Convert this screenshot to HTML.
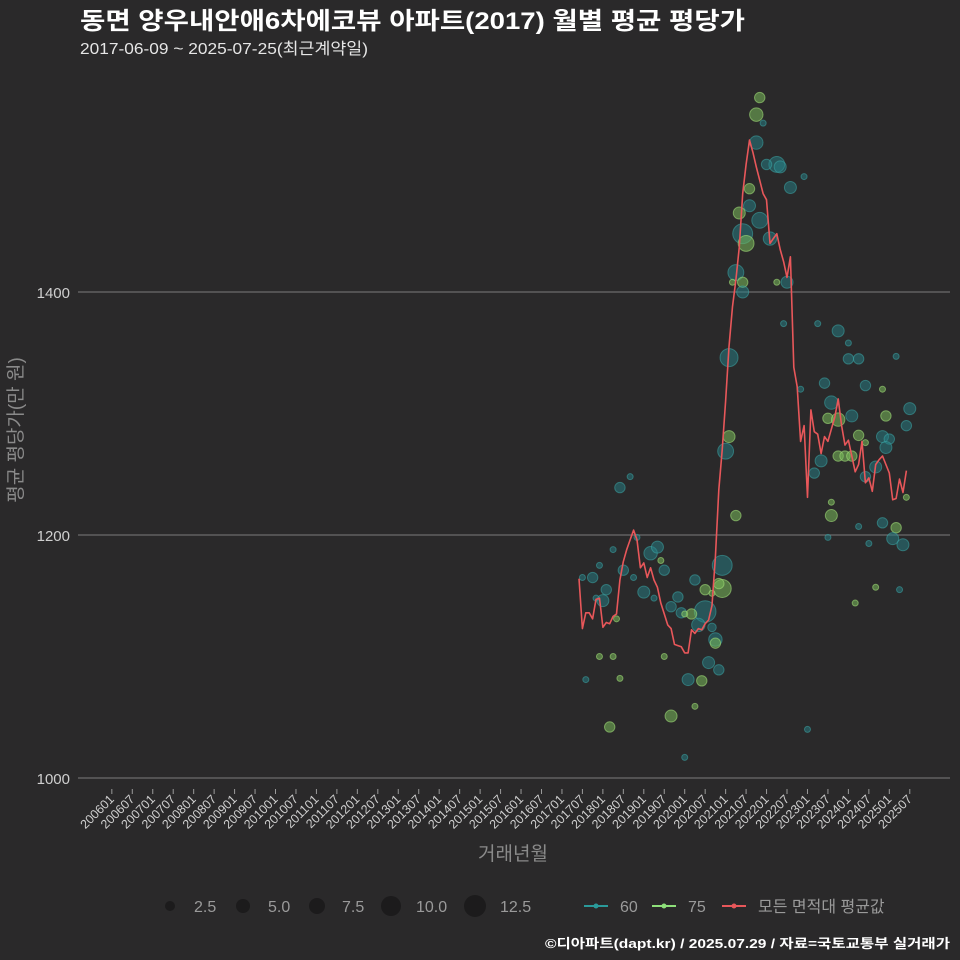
<!DOCTYPE html>
<html><head><meta charset="utf-8">
<style>
html,body{margin:0;padding:0;background:#2a292a;}
svg{display:block;font-family:"Liberation Sans","Noto Sans CJK KR",sans-serif;}
</style></head>
<body>
<svg id="chart" width="960" height="960" viewBox="0 0 960 960" xmlns="http://www.w3.org/2000/svg">
<rect width="960" height="960" fill="#2a292a"/>
<text x="80" y="29" fill="#ffffff" font-size="24" font-weight="bold" textLength="665" lengthAdjust="spacingAndGlyphs">동면 양우내안애6차에코뷰 아파트(2017) 월별 평균 평당가</text>
<text x="80" y="54" fill="#e6e6e6" font-size="16" textLength="288" lengthAdjust="spacingAndGlyphs">2017-06-09 ~ 2025-07-25(최근계약일)</text>
<g id="grid"></g>
<g id="yticks"></g>
<g id="xticks"></g>
<g id="bubbles"></g>
<path id="avgline" fill="none" stroke="#e8575a" stroke-width="1.6" stroke-linejoin="round"/>
<text x="0" y="0" transform="translate(22,430) rotate(-90)" text-anchor="middle" fill="#8a8a8a" font-size="19">평균 평당가(만 원)</text>
<text x="513" y="860" text-anchor="middle" fill="#8a8a8a" font-size="19">거래년월</text>
<g font-size="16" fill="#9a9a9a">
<circle cx="170" cy="906" r="5" fill="#1c1b1c"/><text x="194" y="912">2.5</text>
<circle cx="243" cy="906" r="7" fill="#1c1b1c"/><text x="268" y="912">5.0</text>
<circle cx="317" cy="906" r="8" fill="#1c1b1c"/><text x="342" y="912">7.5</text>
<circle cx="391" cy="906" r="10" fill="#1c1b1c"/><text x="416" y="912">10.0</text>
<circle cx="475" cy="906" r="11" fill="#1c1b1c"/><text x="500" y="912">12.5</text>
</g>
<g font-size="16" fill="#9a9a9a">
<line x1="584" y1="906" x2="608" y2="906" stroke="#2a9a9a" stroke-width="2"/><circle cx="596" cy="906" r="2.5" fill="#2a9a9a"/><text x="620" y="912">60</text>
<line x1="652" y1="906" x2="676" y2="906" stroke="#8ee07a" stroke-width="2"/><circle cx="664" cy="906" r="2.5" fill="#8ee07a"/><text x="688" y="912">75</text>
<line x1="722" y1="906" x2="746" y2="906" stroke="#e8575a" stroke-width="2"/><circle cx="734" cy="906" r="2.5" fill="#e8575a"/><text x="758" y="912">모든 면적대 평균값</text>
</g>
<text x="950" y="948" text-anchor="end" fill="#ffffff" font-size="13" font-weight="bold" textLength="405" lengthAdjust="spacingAndGlyphs">©디아파트(dapt.kr) / 2025.07.29 / 자료=국토교통부 실거래가</text>
</svg>
<script>
const yTicks = [1000, 1200, 1400];
const avgStart = 137; // month index of 2017-06 (from 2006-01)
const avgValues = [1164,1123,1136,1136,1131,1147,1148,1124,1128,1127,1133,1135,1163,1178,1188,1196,1204,1196,1173,1177,1165,1173,1163,1157,1144,1135,1126,1123,1110,1109,1108,1103,1103,1122,1119,1123,1122,1127,1130,1142,1182,1237,1270,1310,1355,1388,1410,1437,1481,1505,1525,1515,1503,1492,1481,1476,1440,1444,1448,1435,1425,1412,1429,1338,1322,1277,1290,1231,1303,1285,1283,1267,1281,1277,1287,1297,1312,1290,1274,1278,1265,1252,1258,1277,1243,1247,1236,1258,1262,1265,1258,1251,1229,1230,1246,1235,1253];
const bubbleMonth = [12,15,46,10,6,1,4,13,17,21,23,24,25,16,8,7,5,19,22,29,27,30,34,37,42,42,41,39,37,33,31,35,39,40,40,11,6,10,25,38,41,32,36,2,12,34,27,9,31,53,52,54,52,58,59,55,62,66,50,50,47,53,56,48,49,46,48,45,61,58,48,60,70,44,44,43,73,76,79,79,82,93,72,65,84,89,74,73,76,80,90,97,96,82,84,89,91,90,76,78,80,71,69,87,84,74,74,89,82,93,85,92,95,96,87,94,67,81];
const bubbleValue = [1239,1248,1216,1188,1175,1165,1165,1171,1198,1185,1190,1179,1171,1165,1155,1146,1148,1153,1148,1149,1141,1136,1163,1155,1175,1156,1160,1152,1137,1135,1135,1126,1124,1114,1111,1131,1100,1100,1100,1095,1089,1081,1080,1081,1082,1059,1051,1042,1017,1560,1546,1539,1523,1505,1503,1505,1486,1495,1485,1471,1465,1459,1444,1448,1440,1416,1408,1408,1408,1408,1400,1374,1374,1346,1281,1269,1198,1368,1358,1345,1345,1347,1325,1320,1323,1320,1309,1296,1295,1298,1298,1304,1290,1282,1276,1281,1279,1272,1265,1265,1265,1261,1251,1256,1248,1227,1216,1210,1207,1206,1193,1197,1192,1231,1157,1155,1040,1144];
const bubbleCount = [3,1,3,1,1,1,3,3,1,5,4,1,3,1,3,4,1,4,1,3,3,3,3,3,11,9,3,1,13,3,1,5,2,5,3,1,1,1,1,4,3,4,3,1,1,1,4,3,1,3,5,1,5,7,4,3,4,1,3,4,4,7,5,11,7,7,3,1,4,1,4,1,1,9,4,7,1,4,1,3,3,1,3,1,3,1,5,3,5,4,3,4,3,3,1,4,3,4,3,3,3,4,3,4,3,1,4,3,1,3,1,4,4,1,1,1,1,1];
const bubbleType = ["60","60","75","60","60","60","60","60","60","60","60","75","60","60","60","60","60","60","60","60","60","60","60","75","60","75","75","75","60","75","75","60","60","60","75","75","75","75","75","60","60","60","75","60","75","75","75","75","60","75","75","60","60","60","60","60","60","60","75","60","75","60","60","60","75","60","75","75","60","75","60","60","60","60","75","60","60","60","60","60","60","60","60","60","60","75","60","75","75","60","75","60","60","75","75","60","60","60","75","75","75","60","60","60","60","75","75","60","60","75","60","60","60","75","75","60","60","75"];

const NS = "http://www.w3.org/2000/svg";
function xScale(m){ return 579 + (m - 137) * 3.41; }
function yScale(v){ return 778 - (v - 1000) * 1.215; }

const grid = document.getElementById('grid');
const yt = document.getElementById('yticks');
yTicks.forEach(v => {
  const l = document.createElementNS(NS,'line');
  l.setAttribute('x1',78); l.setAttribute('x2',950);
  l.setAttribute('y1',yScale(v)); l.setAttribute('y2',yScale(v));
  l.setAttribute('stroke','#7c7c7c'); l.setAttribute('stroke-width','1');
  
  
  grid.appendChild(l);
  const t = document.createElementNS(NS,'text');
  t.setAttribute('x',70); t.setAttribute('y',yScale(v)+6);
  t.setAttribute('text-anchor','end'); t.setAttribute('fill','#cfcfcf'); t.setAttribute('font-size','15');
  t.textContent = v;
  
  
  yt.appendChild(t);
});

const xt = document.getElementById('xticks');
for (let m = 0; m <= 234; m += 6) {
  const yr = 2006 + Math.floor(m/12), mo = (m%12)+1;
  const label = yr + (mo<10?'0':'') + mo;
  const x = xScale(m);
  const tk = document.createElementNS(NS,'line');
  tk.setAttribute('x1',x); tk.setAttribute('x2',x); tk.setAttribute('y1',789); tk.setAttribute('y2',794);
  tk.setAttribute('stroke','#9a9a9a');
  
  
  xt.appendChild(tk);
  const t = document.createElementNS(NS,'text');
  t.setAttribute('x',x+3); t.setAttribute('y',800);
  t.setAttribute('text-anchor','end'); t.setAttribute('fill','#cfcfcf'); t.setAttribute('font-size','12.5');
  t.setAttribute('transform','rotate(-45 '+(x+3)+' 800)');
  t.textContent = label;
  
  
  xt.appendChild(t);
}

const bg = document.getElementById('bubbles');
for (let i = 0; i < bubbleValue.length; i++) {
  const c = document.createElementNS(NS,'circle');
  c.setAttribute('cx', xScale(137 + bubbleMonth[i]));
  c.setAttribute('cy', yScale(bubbleValue[i]));
  c.setAttribute('r', 3 * Math.sqrt(bubbleCount[i]));
  if (bubbleType[i] === '60') {
    c.setAttribute('fill','rgba(38,130,135,0.5)'); c.setAttribute('stroke','rgba(60,165,165,0.55)');
  } else {
    c.setAttribute('fill','rgba(120,185,90,0.55)'); c.setAttribute('stroke','rgba(160,220,120,0.6)');
  }
  c.setAttribute('stroke-width','1');
  
  
  bg.appendChild(c);
}

let d = '';
avgValues.forEach((v,i) => {
  d += (i ? 'L' : 'M') + xScale(avgStart + i).toFixed(1) + ',' + yScale(v).toFixed(1);
});
document.getElementById('avgline').setAttribute('d', d);
</script>
</body></html>
